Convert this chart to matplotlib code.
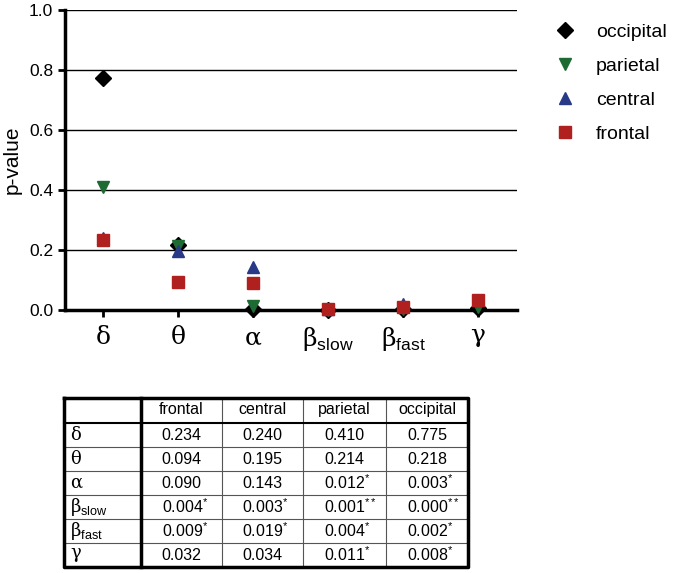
import matplotlib.pyplot as plt

plt.rcParams['font.family'] = ['Liberation Sans', 'DejaVu Sans']
plt.rcParams['mathtext.fontset'] = 'custom'
plt.rcParams['mathtext.rm'] = 'DejaVu Serif'
plt.rcParams['mathtext.sf'] = 'Liberation Sans'

bands = [r'$\mathrm{δ}$', r'$\mathrm{θ}$', r'$\mathrm{α}$',
         r'$\mathrm{β}_{\mathsf{slow}}$', r'$\mathrm{β}_{\mathsf{fast}}$', r'$\mathrm{γ}$']
regions = ['frontal', 'central', 'parietal', 'occipital']

frontal = [0.234, 0.094, 0.090, 0.004, 0.009, 0.032]
central = [0.240, 0.195, 0.143, 0.003, 0.019, 0.034]
parietal = [0.410, 0.214, 0.012, 0.001, 0.004, 0.011]
occipital = [0.775, 0.218, 0.003, 0.000, 0.002, 0.008]
stars = [['', '', '', ''],
         ['', '', '', ''],
         ['', '', '*', '*'],
         ['*', '*', '**', '**'],
         ['*', '*', '*', '*'],
         ['', '', '*', '*']]

fig = plt.figure(figsize=(6.76, 5.73), dpi=100)
ax = fig.add_axes([0.0962, 0.459, 0.669, 0.5235])

x = list(range(len(bands)))
series = [('occipital', occipital, 'D', 'black', 8),
          ('parietal', parietal, 'v', '#1d6b32', 9),
          ('central', central, '^', '#283a87', 9),
          ('frontal', frontal, 's', '#b0201f', 9)]
for name, vals, mk, col, ms in series:
    ax.plot(x, vals, linestyle='none', marker=mk, color=col, markersize=ms,
            label=name, clip_on=False, zorder=3)

ax.set_xlim(-0.507, 5.52)
ax.set_ylim(0, 1.0)
ax.set_yticks([0.0, 0.2, 0.4, 0.6, 0.8, 1.0])
ax.set_yticklabels(['0.0', '0.2', '0.4', '0.6', '0.8', '1.0'], fontsize=12.5)
ax.set_xticks(x)
ax.set_xticklabels(bands, fontsize=18)
ax.set_ylabel('p-value', fontsize=15, labelpad=5)
for yv in [0.2, 0.4, 0.6, 0.8, 1.0]:
    ax.axhline(yv, color='black', linewidth=1.0, zorder=1)
ax.spines['top'].set_visible(False)
ax.spines['right'].set_visible(False)
ax.spines['left'].set_linewidth(2.5)
ax.spines['bottom'].set_linewidth(2.5)
ax.tick_params(axis='both', direction='out', width=2, length=5)
ax.tick_params(axis='x', pad=6)

fig.legend(loc='upper left', bbox_to_anchor=(0.795, 0.99), frameon=False,
           fontsize=14, handletextpad=1.1, labelspacing=0.85, handlelength=1.0)

# table
tab = fig.add_axes([0, 0, 1, 1])
tab.set_xlim(0, 676)
tab.set_ylim(573, 0)
tab.axis('off')
col_x = [64, 141, 222, 303, 386, 468]
row_y = [398, 423, 447, 471, 495, 519, 543, 567]
for cx in col_x[2:-1]:
    tab.plot([cx, cx], [row_y[0], row_y[-1]], color='#555555', lw=0.8)
for ry in row_y[2:-1]:
    tab.plot([col_x[0], col_x[-1]], [ry, ry], color='#555555', lw=0.8)
tab.plot([col_x[0], col_x[-1]], [row_y[1], row_y[1]], color='black', lw=1.5)
tab.plot([col_x[1], col_x[1]], [row_y[0], row_y[-1]], color='black', lw=2.5)
tab.plot([col_x[0], col_x[-1], col_x[-1], col_x[0], col_x[0]],
         [row_y[0], row_y[0], row_y[-1], row_y[-1], row_y[0]], color='black', lw=2.5)

for j, name in enumerate(regions):
    tab.text((col_x[j + 1] + col_x[j + 2]) / 2, (row_y[0] + row_y[1]) / 2 - 1, name,
             ha='center', va='center', fontsize=11.5)
cols = [frontal, central, parietal, occipital]
for i, b in enumerate(bands):
    yc = (row_y[i + 1] + row_y[i + 2]) / 2
    tab.text(col_x[0] + 6, yc, b, ha='left', va='center', fontsize=13)
    for j in range(4):
        cxm = (col_x[j + 1] + col_x[j + 2]) / 2
        s = '%.3f' % cols[j][i]
        if stars[i][j]:
            s += r'$^{\mathsf{%s}}$' % stars[i][j]
        tab.text(cxm - 20, yc, s, ha='left', va='center', fontsize=11.5)

fig.savefig('out.png', dpi=100)
